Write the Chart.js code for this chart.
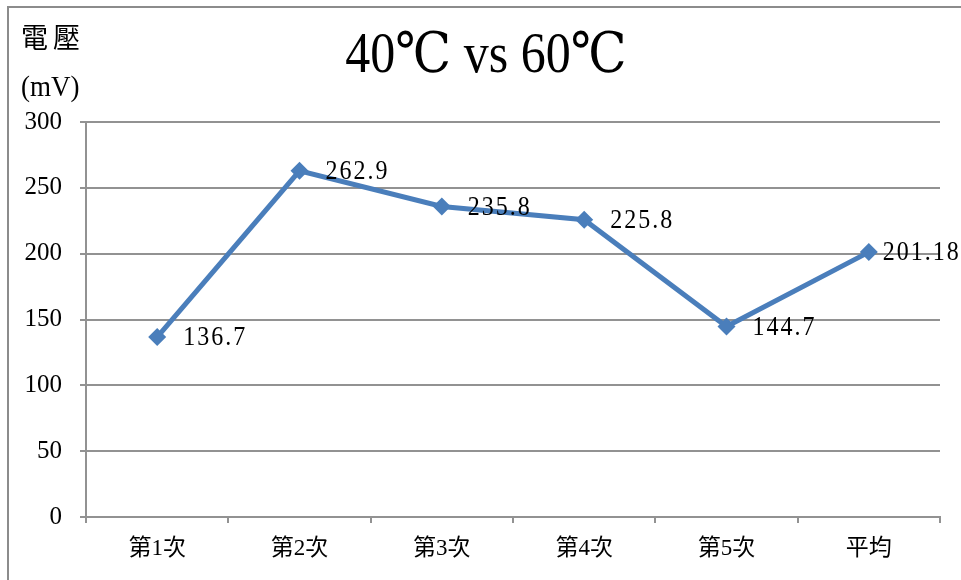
<!DOCTYPE html>
<html>
<head>
<meta charset="utf-8">
<script src="https://cdn.jsdelivr.net/npm/chart.js@4/dist/chart.umd.min.js"></script>
<style>
  html, body { margin: 0; padding: 0; background: #fff; }
  #wrap { width: 961px; height: 580px; position: relative; }
</style>
</head>
<body>
<div id="wrap"><canvas id="c" width="961" height="580"></canvas></div>
<script>
// Measured voltage per run, plus the average
const categories = ['第1次', '第2次', '第3次', '第4次', '第5次', '平均'];
const voltage = [136.7, 262.9, 235.8, 225.8, 144.7, 201.18];
const valueLabels = ['136.7', '262.9', '235.8', '225.8', '144.7', '201.18'];
const yTicks = [0, 50, 100, 150, 200, 250, 300];

const titleText = '40℃ vs 60℃';
const axisLabel = ['電壓', '(mV)'];

const SERIF = '"Liberation Serif", "DejaVu Serif", "Noto Sans CJK TC", serif';
const GRID = '#929292';
const LINE = '#4A7EBB';

// Draw text slightly stretched vertically around its anchor point
function tallText(ctx, text, x, y, sy) {
  ctx.save();
  ctx.translate(x, y);
  ctx.scale(1, sy);
  ctx.fillText(text, 0, 0);
  ctx.restore();
}

// Frame, title, unit label and point value labels
const decorations = {
  id: 'decorations',
  beforeDraw(chart) {
    const ctx = chart.ctx;
    ctx.save();
    ctx.fillStyle = '#fff';
    ctx.fillRect(0, 0, chart.width, chart.height);
    ctx.strokeStyle = '#8c8c8c';
    ctx.lineWidth = 2;
    ctx.strokeRect(8, 7, chart.width + 20, chart.height + 20);
    ctx.restore();
  },
  afterDraw(chart) {
    const ctx = chart.ctx;
    ctx.save();
    ctx.fillStyle = '#000';
    ctx.textBaseline = 'middle';
    // title
    ctx.font = '50px ' + SERIF;
    ctx.textAlign = 'center';
    tallText(ctx, titleText, 486, 57, 1.12);
    // unit label above the value axis
    ctx.textAlign = 'left';
    ctx.font = '27px ' + SERIF;
    ctx.letterSpacing = '5px';
    tallText(ctx, axisLabel[0], 21, 41, 1.05);
    ctx.letterSpacing = '0px';
    tallText(ctx, axisLabel[1], 21, 88, 1.12);
    // value labels beside each point
    ctx.font = '24px ' + SERIF;
    ctx.letterSpacing = '2px';
    const meta = chart.getDatasetMeta(0);
    meta.data.forEach((pt, i) => {
      const last = i === meta.data.length - 1;
      tallText(ctx, valueLabels[i], pt.x + (last ? 14 : 26), pt.y + 1, 1.15);
    });
    ctx.restore();
  }
};

new Chart(document.getElementById('c'), {
  type: 'line',
  data: {
    labels: categories,
    datasets: [{
      data: voltage,
      borderColor: LINE,
      backgroundColor: LINE,
      borderWidth: 5,
      pointStyle: 'rectRot',
      pointRadius: 9,
      pointHoverRadius: 9,
      pointBackgroundColor: LINE,
      pointBorderColor: LINE,
      pointBorderWidth: 0,
      tension: 0
    }]
  },
  options: {
    responsive: false,
    animation: false,
    events: [],
    layout: { padding: { top: 122, right: 21, left: 0, bottom: 0 } },
    plugins: {
      legend: { display: false },
      title: { display: false },
      tooltip: { enabled: false }
    },
    scales: {
      x: {
        type: 'category',
        offset: true,
        grid: {
          offset: true,
          drawOnChartArea: false,
          drawTicks: true,
          tickLength: 6,
          color: GRID,
          lineWidth: 2
        },
        border: { display: true, color: GRID, width: 2 },
        ticks: {
          color: '#000',
          font: { family: SERIF, size: 23 },
          padding: 12,
          maxRotation: 0
        },
        afterFit(scale) { scale.height = 63; }
      },
      y: {
        min: 0,
        max: 300,
        afterBuildTicks(scale) { scale.ticks = yTicks.map(v => ({ value: v })); },
        grid: {
          color: GRID,
          lineWidth: 2,
          tickLength: 6,
          drawTicks: true
        },
        border: { display: true, color: GRID, width: 2 },
        ticks: {
          color: '#000',
          font: { family: SERIF, size: 25 },
          padding: 18
        },
        afterFit(scale) { scale.width = 86; }
      }
    }
  },
  plugins: [decorations]
});
</script>
</body>
</html>
